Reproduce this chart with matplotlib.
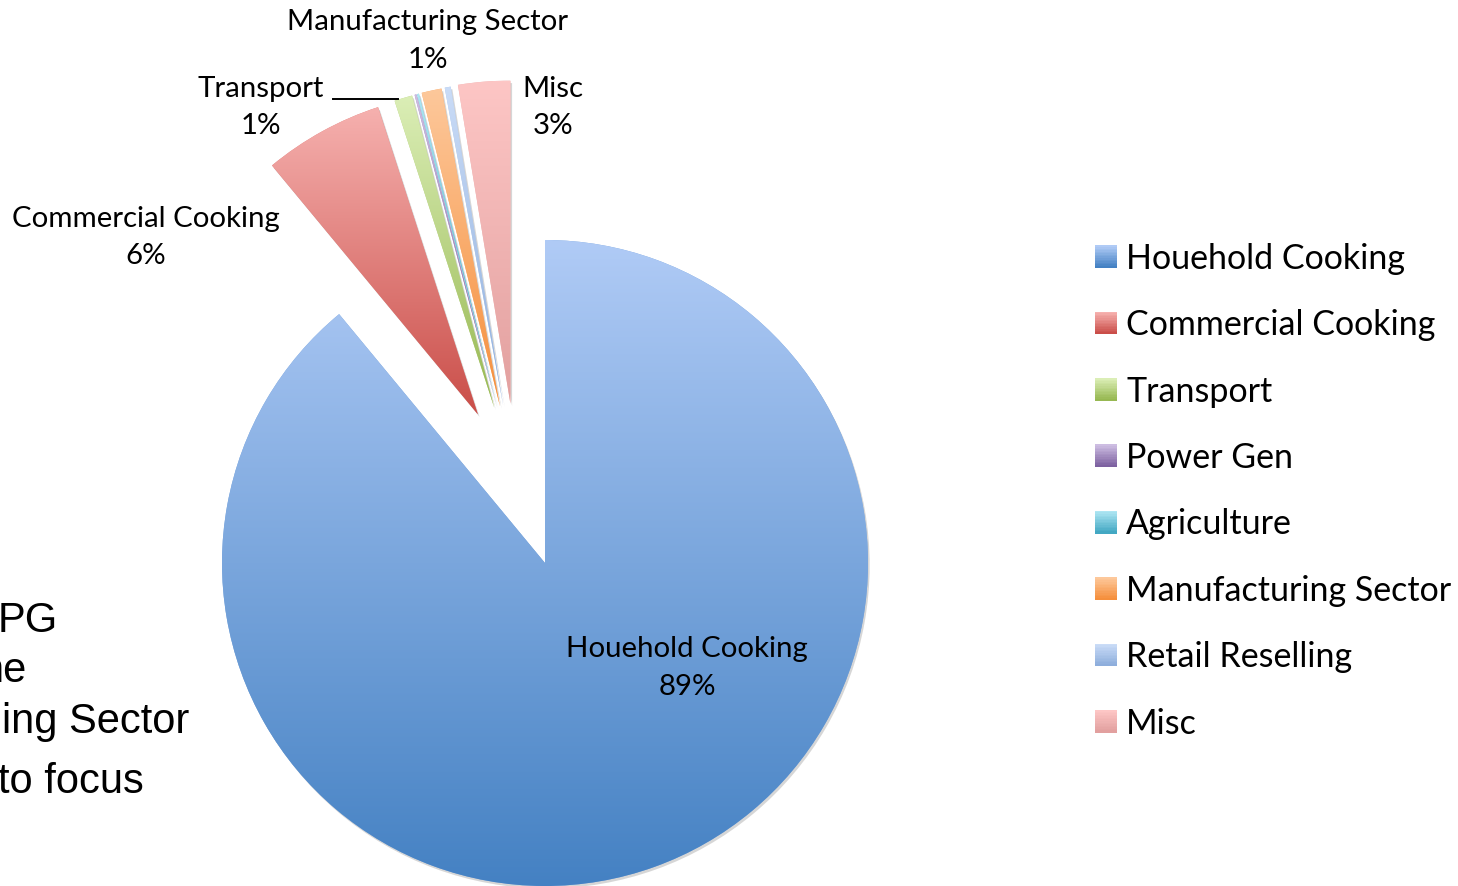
import matplotlib
matplotlib.use("Agg")
import matplotlib.pyplot as plt
import numpy as np
from matplotlib.colors import LinearSegmentedColormap
from matplotlib.legend_handler import HandlerBase
from matplotlib.patches import Rectangle

W, H = 1458, 886

# data (percent of LPG use)
categories = ["Houehold Cooking", "Commercial Cooking", "Transport", "Power Gen",
              "Agriculture", "Manufacturing Sector", "Retail Reselling", "Misc"]
shares = [89.0, 6.0, 0.9, 0.1, 0.1, 1.0, 0.3, 2.6]
top_colors = ["#b0cbf6", "#f6b1af", "#dbeeb6", "#cdbde2", "#aee6f3", "#fdc89b", "#cadcf7", "#fdc6c5"]
bottom_colors = ["#4481c3", "#ca4e49", "#97b852", "#7d61a0", "#43a8c3", "#f58f3c", "#8eaedc", "#e2a09f"]
shown_labels = ["Houehold Cooking", "Commercial Cooking", "Transport", "Manufacturing Sector", "Misc"]
side_lines = ["PG", "ne", "ing Sector", "to focus"]

# label placement in pixel coords: centre x, name y, percent y
label_pos = {
    "Houehold Cooking": (687, 649, 687),
    "Commercial Cooking": (146, 219, 256),
    "Transport": (261, 89, 126),
    "Manufacturing Sector": (428, 22, 60),
    "Misc": (553, 89, 126),
}
side_pos = [(58, 632), (27, 682), (189, 733), (144, 793)]

LABEL_FONT = ["Lato", "DejaVu Sans"]


def gradient_cmap(top, bottom):
    return LinearSegmentedColormap.from_list("g", [top, bottom])


class GradientSquare(HandlerBase):
    def __init__(self, top, bottom, n=14):
        super().__init__()
        self.cmap = gradient_cmap(top, bottom)
        self.n = n

    def create_artists(self, legend, orig_handle, xdescent, ydescent,
                       width, height, fontsize, trans):
        arts = []
        step = height / self.n
        for i in range(self.n):
            y = -ydescent + height - (i + 1) * step
            arts.append(Rectangle((-xdescent, y), width, step * 1.4,
                                  facecolor=self.cmap(i / (self.n - 1)),
                                  edgecolor="none", transform=trans))
        return arts


fig = plt.figure(figsize=(W / 100, H / 100), dpi=100)
ax = fig.add_axes([0, 0, 1, 1])

R = 323
cx, cy = 545, H - 563
mid_colors = [gradient_cmap(t, b)(0.5) for t, b in zip(top_colors, bottom_colors)]
wedges, _ = ax.pie(shares, startangle=90, counterclock=False, radius=R,
                   center=(cx, cy), colors=mid_colors,
                   wedgeprops=dict(linewidth=0),
                   shadow=dict(ox=1.2, oy=-1.8, facecolor="#8c8c8c",
                               edgecolor="none", alpha=0.35))

# pull the small slices out, roughly the way the spreadsheet did
small = wedges[1:]
g_lo = min(w.theta1 for w in small)
g_hi = max(w.theta2 for w in small)
g_mid = 0.5 * (g_lo + g_hi)
explode = 0.505 * R
for w in small:
    d = np.deg2rad(0.5 * (0.5 * (w.theta1 + w.theta2) + g_mid))
    w.set_center((cx + explode * np.cos(d), cy + explode * np.sin(d)))

# vertical gradient fill per slice
grad = np.linspace(0, 1, 256).reshape(-1, 1)
for w, t, b in zip(wedges, top_colors, bottom_colors):
    ext = w.get_path().get_extents()
    im = ax.imshow(grad, cmap=gradient_cmap(t, b), extent=(ext.x0, ext.x1, ext.y0, ext.y1),
                   origin="upper", aspect="auto", interpolation="bilinear",
                   zorder=w.get_zorder() + 0.05)
    im.set_clip_path(w)

# slice labels
for name in shown_labels:
    i = categories.index(name)
    x, y1, y2 = label_pos[name]
    ax.text(x, H - y1, name, ha="center", va="center", fontsize=21.2,
            family=LABEL_FONT, color="black", zorder=5)
    ax.text(x, H - y2, f"{shares[i]:.0f}%", ha="center", va="center", fontsize=21.2,
            family=LABEL_FONT, color="black", zorder=5)

# leader line for Transport
tw = wedges[categories.index("Transport")]
tx, ty = tw.center
a = np.deg2rad(tw.theta2)
ax.plot([333, tx + R * np.cos(a) + 3], [H - 99, H - 99], color="black", lw=1.4, zorder=5)

# leftover slide text cut by the left edge (cut in the original too)
for txt, (x, y) in zip(side_lines, side_pos):
    ax.text(x, H - y, txt, ha="right", va="baseline", fontsize=30,
            family="Liberation Sans", color="black")

handler_map = {w: GradientSquare(t, b) for w, t, b in zip(wedges, top_colors, bottom_colors)}
ax.legend(wedges, categories, handler_map=handler_map, loc="upper left",
          bbox_to_anchor=(1095 / W, 1 - 243 / H), bbox_transform=fig.transFigure,
          frameon=False, prop={"family": LABEL_FONT, "size": 24.5},
          handlelength=0.64, handleheight=0.62, handletextpad=0.28,
          labelspacing=1.01, borderpad=0, borderaxespad=0)

ax.set_xlim(0, W)
ax.set_ylim(0, H)
ax.set_aspect("equal")
ax.axis("off")

fig.savefig("out.png", dpi=100)
